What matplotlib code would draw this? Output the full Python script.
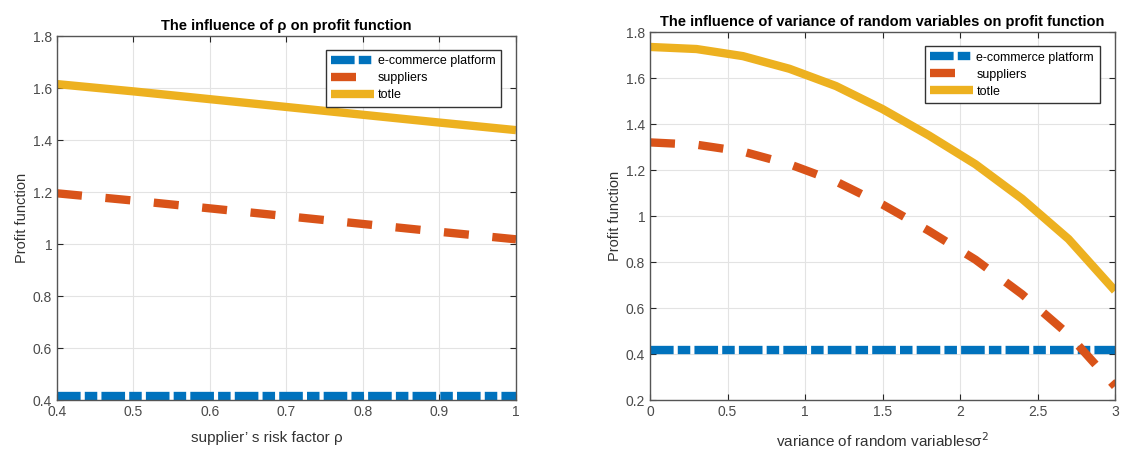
import numpy as np
import matplotlib
matplotlib.use('Agg')
import matplotlib.pyplot as plt

plt.rcParams['font.family'] = ['Liberation Sans', 'DejaVu Sans']
plt.rcParams['lines.scale_dashes'] = False

# left panel: supplier's risk factor rho
rho = [0.4, 0.5, 0.6, 0.7, 0.8, 0.9, 1.0]
platform_rho = [0.415, 0.415, 0.415, 0.415, 0.415, 0.415, 0.415]
suppliers_rho = [1.195, 1.167, 1.137, 1.107, 1.077, 1.047, 1.018]
total_rho = [1.615, 1.587, 1.557, 1.527, 1.497, 1.467, 1.438]

# right panel: variance of random variables
sigma2 = [0, 0.3, 0.6, 0.9, 1.2, 1.5, 1.8, 2.1, 2.4, 2.7, 3.0]
platform_sig = [0.418] * 11
suppliers_sig = [1.32, 1.31, 1.28, 1.225, 1.15, 1.05, 0.935, 0.81, 0.66, 0.485, 0.26]
total_sig = [1.735, 1.726, 1.695, 1.64, 1.565, 1.465, 1.35, 1.225, 1.075, 0.90, 0.675]

labels = ['e-commerce platform', 'suppliers', 'totle']
colors = ['#0072BD', '#D95319', '#EDB120']

fig = plt.figure(figsize=(11.31, 4.5), dpi=100)
ax1 = fig.add_axes([57 / 1131, 50 / 450, 459 / 1131, 364 / 450])
ax2 = fig.add_axes([650 / 1131, 50 / 450, 465 / 1131, 368 / 450])


def draw(ax, x, plat, sup, tot, anchor):
    l1, = ax.plot(x, plat, color=colors[0], lw=6, label=labels[0])
    l1.set_dashes([17, 3, 9, 3])
    l2, = ax.plot(x, sup, color=colors[1], lw=6, label=labels[1])
    l2.set_dashes([18, 17])
    ax.plot(x, tot, color=colors[2], lw=6, label=labels[2], solid_capstyle='butt')
    ax.grid(True, color='#e3e3e3', lw=0.8)
    ax.set_axisbelow(True)
    ax.tick_params(direction='in', top=True, right=True, length=4,
                   labelsize=10, colors='#262626', labelcolor='#4a4a4a')
    for s in ax.spines.values():
        s.set_color('#555555')
        s.set_linewidth(1.0)
    ax.set_ylabel('Profit function', fontsize=10.5, color='#333333', labelpad=3)
    leg = ax.legend(loc='upper right', bbox_to_anchor=anchor, fontsize=9,
                    handlelength=3.4, handletextpad=0.3, labelspacing=0.4,
                    borderpad=0.45, borderaxespad=0, fancybox=False, framealpha=1)
    leg.get_frame().set_edgecolor('#333333')
    leg.get_frame().set_linewidth(1.0)


draw(ax1, rho, platform_rho, suppliers_rho, total_rho, (0.967, 0.962))
ax1.set_xlim(0.4, 1)
ax1.set_ylim(0.4, 1.8)
ax1.set_xticks([0.4, 0.5, 0.6, 0.7, 0.8, 0.9, 1])
ax1.set_xticklabels(['0.4', '0.5', '0.6', '0.7', '0.8', '0.9', '1'])
ax1.set_yticks([0.4, 0.6, 0.8, 1.0, 1.2, 1.4, 1.6, 1.8])
ax1.set_yticklabels(['0.4', '0.6', '0.8', '1', '1.2', '1.4', '1.6', '1.8'])
ax1.set_title('The influence of ρ on profit function', fontsize=10.5,
              fontweight='bold', pad=4)
ax1.set_xlabel('supplier’ s risk factor ρ', fontsize=11, color='#333333')
ax1.xaxis.set_label_coords(0.457, -0.085)

draw(ax2, sigma2, platform_sig, suppliers_sig, total_sig, (0.967, 0.962))
ax2.set_xlim(0, 3)
ax2.set_ylim(0.2, 1.8)
ax2.set_xticks([0, 0.5, 1, 1.5, 2, 2.5, 3])
ax2.set_xticklabels(['0', '0.5', '1', '1.5', '2', '2.5', '3'])
ax2.set_yticks([0.2, 0.4, 0.6, 0.8, 1.0, 1.2, 1.4, 1.6, 1.8])
ax2.set_yticklabels(['0.2', '0.4', '0.6', '0.8', '1', '1.2', '1.4', '1.6', '1.8'])
ax2.set_title('The influence of variance of random variables on profit function',
              fontsize=10.5, fontweight='bold', pad=4)
ax2.set_xlabel('variance of random variablesσ$^2$', fontsize=11, color='#333333')
ax2.xaxis.set_label_coords(0.5, -0.085)

fig.savefig('out.png', dpi=100)
